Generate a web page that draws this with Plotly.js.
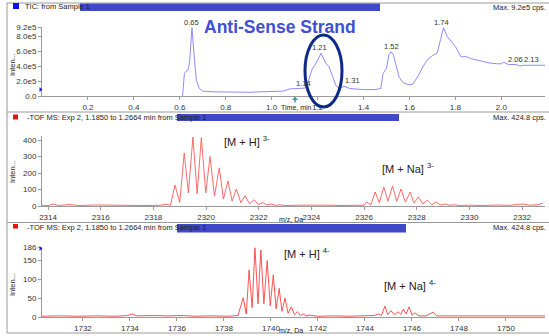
<!DOCTYPE html>
<html>
<head>
<meta charset="utf-8">
<script src="https://cdn.plot.ly/plotly-3.0.1.min.js"></script>
<style>html,body{margin:0;padding:0;background:#fff;}#chart{width:549px;height:336px;}</style>
</head>
<body>
<div id="chart"></div>
<script>
// ---------- DATA ----------
// TIC chromatogram (time in min, intensity in cps)
const ticTime = [0.612,0.62,0.627,0.635,0.642,0.653,0.662,0.672,0.685,0.70,0.75,0.80,0.85,0.90,0.95,1.00,1.05,1.08,1.12,1.145,1.16,1.175,1.19,1.215,1.235,1.25,1.265,1.28,1.295,1.315,1.34,1.40,1.45,1.475,1.485,1.50,1.51,1.52,1.53,1.54,1.555,1.575,1.60,1.615,1.64,1.66,1.68,1.70,1.72,1.735,1.748,1.765,1.785,1.80,1.825,1.845,1.865,1.88,1.90,1.92,1.95,1.98,2.00,2.01,2.03,2.065,2.08,2.10,2.13,2.16,2.19];
const ticInt = [0,3.0e5,3.3e5,3.4e5,4.3e5,9.1e5,5.5e5,2.1e5,1.0e5,0.65e5,0.55e5,0.5e5,0.52e5,0.5e5,0.55e5,0.6e5,0.65e5,0.95e5,1.0e5,1.05e5,2.0e5,3.5e5,4.2e5,5.7e5,4.4e5,3.9e5,2.6e5,1.4e5,1.0e5,1.3e5,1.0e5,0.85e5,0.85e5,1.0e5,3.0e5,3.7e5,5.5e5,5.9e5,5.5e5,4.2e5,2.5e5,1.7e5,1.5e5,1.6e5,2.8e5,4.0e5,4.9e5,5.4e5,5.7e5,7.5e5,9.1e5,7.9e5,7.2e5,6.6e5,5.2e5,5.3e5,5.0e5,4.9e5,4.7e5,4.6e5,4.4e5,4.3e5,4.3e5,4.5e5,4.2e5,4.2e5,4.0e5,4.1e5,4.1e5,4.0e5,4.1e5];
const ticPeakLabels = ["0.65","1.14","1.21","1.31","1.52","1.74","2.06","2.13"];
const ticPeakTime = [0.65,1.14,1.21,1.31,1.52,1.74,2.06,2.13];
const ticPeakInt = [9.1e5,1.0e5,5.7e5,1.3e5,5.9e5,9.1e5,4.2e5,4.2e5];
const ticXTicks = [0.2,0.4,0.6,0.8,1.0,1.2,1.4,1.6,1.8,2.0];
const ticXTickText = ["0.2","0.4","0.6","0.8","1.0","1.2","1.4","1.6","1.8","2.0"];
const ticYTicks = [0,2e5,4e5,6e5,8e5,9.2e5];
const ticYTickText = ["0.0","2.0e5","4.0e5","6.0e5","8.0e5","9.2e5"];

// TOF MS, charge 3- region
const ms3Mz = [2313.77,2314.0,2314.2,2314.4,2314.8,2315.2,2315.8,2316.4,2317.0,2317.6,2318.2,2318.5,2318.65,2318.82,2319.0,2319.17,2319.33,2319.5,2319.66,2319.82,2319.99,2320.15,2320.32,2320.5,2320.66,2320.83,2320.99,2321.15,2321.32,2321.48,2321.65,2321.82,2321.99,2322.15,2322.32,2322.48,2322.65,2322.8,2323.0,2323.5,2324.0,2324.6,2325.2,2325.8,2326.0,2326.1,2326.26,2326.42,2326.58,2326.75,2326.91,2327.08,2327.24,2327.4,2327.57,2327.75,2327.9,2328.06,2328.23,2328.4,2328.57,2328.73,2328.9,2329.08,2329.25,2329.4,2329.6,2330.0,2330.5,2331.0,2331.5,2332.04,2332.3,2332.6,2332.8];
const ms3Int = [4,3,12,3,9,3,6,3,4,3,4,10,5,127,22,321,80,418,75,415,80,300,60,232,42,152,30,103,20,62,14,38,9,20,6,12,4,7,3,5,3,5,3,4,5,24,8,85,20,115,28,121,28,103,24,85,18,55,12,36,8,24,6,12,4,8,3,5,3,6,4,12,5,8,18];
const ms3XTicks = [2314,2316,2318,2320,2322,2324,2326,2328,2330,2332];
const ms3YTicks = [0,100,200,300,400];

// TOF MS, charge 4- region
const ms4Mz = [1730.26,1731.0,1731.8,1732.6,1733.4,1733.9,1734.07,1734.3,1735.0,1735.6,1736.2,1736.8,1737.5,1738.2,1738.6,1738.82,1738.95,1739.07,1739.2,1739.32,1739.45,1739.57,1739.7,1739.84,1739.97,1740.1,1740.22,1740.35,1740.47,1740.6,1740.73,1740.87,1741.0,1741.13,1741.25,1741.37,1741.5,1741.62,1742.0,1742.6,1743.3,1744.0,1744.4,1744.57,1744.7,1744.85,1744.97,1745.1,1745.25,1745.42,1745.52,1745.63,1745.75,1745.88,1746.0,1746.13,1746.3,1746.6,1746.9,1747.05,1747.6,1748.3,1749.0,1749.8,1750.5,1751.2,1751.66];
const ms4Int = [2,3,2,3,2,4,8,3,4,3,4,2,3,2,4,51,8,125,25,184,35,178,35,150,30,112,22,76,15,50,10,27,6,14,4,8,3,5,2,3,2,3,4,8,4,29,6,17,6,14,7,21,8,27,5,11,3,3,13,3,3,2,3,2,3,2,3];
const ms4XTicks = [1732,1734,1736,1738,1740,1742,1744,1746,1748,1750];
const ms4YTicks = [0,50,100,150,186];

// ---------- LAYOUT HELPERS ----------
const W = 549, H = 336;
const px = x => x / W;
const py = y => 1 - y / H;
const FONT = "Liberation Sans, Arial, sans-serif";
const GRAY = "#9a9a9a";
const TICKCOL = "#333";
const BLUE_BAR = "#3f48c8";

function xAxis(range, tickvals, ticktext, anchor) {
  return {
    domain: [px(42), px(545)], range: range, anchor: anchor,
    tickvals: tickvals, ticktext: ticktext,
    showline: true, linecolor: GRAY, linewidth: 1,
    ticks: "outside", ticklen: 3, tickcolor: GRAY,
    tickfont: {family: FONT, size: 8, color: TICKCOL},
    showgrid: false, zeroline: false, fixedrange: true
  };
}
function yAxis(dom, range, tickvals, ticktext, anchor) {
  return {
    domain: dom, range: range, anchor: anchor,
    tickvals: tickvals, ticktext: ticktext,
    showline: true, linecolor: GRAY, linewidth: 1,
    ticks: "outside", ticklen: 3, tickcolor: GRAY,
    tickfont: {family: FONT, size: 8, color: TICKCOL},
    showgrid: false, zeroline: false, fixedrange: true
  };
}

const traces = [
  {x: ticTime, y: ticInt, xaxis: "x", yaxis: "y", type: "scatter", mode: "lines",
   line: {color: "#8c8cff", width: 1}, hoverinfo: "skip"},
  {x: ms3Mz, y: ms3Int, xaxis: "x2", yaxis: "y2", type: "scatter", mode: "lines",
   line: {color: "#ff5a5a", width: 0.9}, hoverinfo: "skip"},
  {x: ms4Mz, y: ms4Int, xaxis: "x3", yaxis: "y3", type: "scatter", mode: "lines",
   line: {color: "#ff4040", width: 0.9}, hoverinfo: "skip"}
];

const small = {family: FONT, size: 7.5, color: "#222"};
const annotations = [];
function ann(x, y, text, opts) {
  annotations.push(Object.assign({xref: "paper", yref: "paper", x: px(x), y: py(y), text: text,
    showarrow: false, font: small, xanchor: "left", yanchor: "middle"}, opts || {}));
}
// headers
ann(23, 6.5, "TIC: from Sample 1");
ann(548, 7.5, "Max. 9.2e5 cps.", {xanchor: "right"});
ann(25, 118, "-TOF MS: Exp 2, 1.1850 to 1.2664 min from Sample 1");
ann(548, 118, "Max. 424.8 cps.", {xanchor: "right"});
ann(25, 227, "-TOF MS: Exp 2, 1.1850 to 1.2664 min from Sample 1");
ann(548, 227, "Max. 424.8 cps.", {xanchor: "right"});
// axis titles
ann(12, 65, "Inten...", {textangle: -90, xanchor: "center"});
ann(12, 172, "Inten...", {textangle: -90, xanchor: "center"});
ann(12, 285, "Inten...", {textangle: -90, xanchor: "center"});
const axTitle = {family: FONT, size: 7, color: "#222"};
ann(279, 108, "Time, min", {font: axTitle});
ann(277, 219.5, "m/z, Da", {font: axTitle});
ann(277, 330, "m/z, Da", {font: axTitle});
// title
ann(280, 27, "<b>Anti-Sense Strand</b>", {xanchor: "center", font: {family: FONT, size: 17.5, color: "#4150d2"}});
// ion labels
const ionFont = {family: FONT, size: 11, color: "#222"};
ann(222, 141, "[M + H] <sup>3-</sup>", {font: ionFont});
ann(380, 168, "[M + Na] <sup>3-</sup>", {font: ionFont});
ann(282, 253, "[M + H] <sup>4-</sup>", {font: ionFont});
ann(382, 285, "[M + Na] <sup>4-</sup>", {font: ionFont});
// peak labels on TIC
for (let i = 0; i < ticPeakLabels.length; i++) {
  annotations.push({xref: "x", yref: "y", x: ticPeakTime[i], y: ticPeakInt[i], text: ticPeakLabels[i],
    showarrow: false, yanchor: "bottom", xanchor: "center", yshift: -1,
    xshift: ticPeakLabels[i] === "1.31" ? 10 : 0,
    font: {family: FONT, size: 7.5, color: "#333"}});
}

const line = (x0, y0, x1, y1, col, w) => ({type: "line", xref: "paper", yref: "paper",
  x0: px(x0), y0: py(y0), x1: px(x1), y1: py(y1), line: {color: col || GRAY, width: w || 1}});
const rect = (x0, y0, x1, y1, col) => ({type: "rect", xref: "paper", yref: "paper",
  x0: px(x0), y0: py(y0), x1: px(x1), y1: py(y1), fillcolor: col, line: {width: 0}});
const tri = (x, y, col) => ({type: "path", xref: "paper", yref: "paper",
  path: `M ${px(x)} ${py(y-2.5)} L ${px(x+3)} ${py(y)} L ${px(x)} ${py(y+2.5)} Z`,
  fillcolor: col, line: {width: 0}});

const shapes = [
  line(7, 3, 549, 3), line(7, 3, 7, 333), line(7, 333, 549, 333),
  line(7, 112, 549, 112), line(7, 222.5, 549, 222.5),
  rect(13, 3, 19, 9, "#1010ee"), rect(80, 3.5, 380, 11, BLUE_BAR),
  rect(13, 114.5, 18, 119.5, "#ee1010"), rect(177, 114, 399, 121, BLUE_BAR),
  rect(13, 224, 18, 228.5, "#ee1010"), rect(177, 224, 406, 232.5, BLUE_BAR),
  tri(39.5, 89.5, "#2020dd"), tri(39.5, 248.5, "#2020dd"),
  {type: "path", xref: "paper", yref: "paper",
   path: `M ${px(292)} ${py(100)} L ${px(295)} ${py(96.5)} L ${px(298)} ${py(100)} Z`,
   fillcolor: "#2aa198", line: {width: 0}},
  line(295, 100, 295, 102.5, "#2aa198", 1.5),
  {type: "circle", xref: "paper", yref: "paper",
   x0: px(305), x1: px(342), y0: py(107), y1: py(35), line: {color: "#0d2a86", width: 3}}
];

const layout = {
  width: W, height: H, margin: {l: 0, r: 0, t: 0, b: 0},
  paper_bgcolor: "#fff", plot_bgcolor: "rgba(0,0,0,0)", showlegend: false,
  font: {family: FONT},
  xaxis: xAxis([0, 2.19], ticXTicks, ticXTickText, "y"),
  yaxis: yAxis([py(96), py(27)], [0, 9.2e5], ticYTicks, ticYTickText, "x"),
  xaxis2: xAxis([2313.77, 2332.87], ms3XTicks, ms3XTicks.map(String), "y2"),
  yaxis2: yAxis([py(206), py(136)], [0, 424.8], ms3YTicks, ms3YTicks.map(String), "x2"),
  xaxis3: xAxis([1730.26, 1751.66], ms4XTicks, ms4XTicks.map(String), "y3"),
  yaxis3: yAxis([py(317), py(247)], [0, 186], ms4YTicks, ms4YTicks.map(String), "x3"),
  annotations: annotations, shapes: shapes
};

Plotly.newPlot("chart", traces, layout, {staticPlot: true, displayModeBar: false});
</script>
</body>
</html>
